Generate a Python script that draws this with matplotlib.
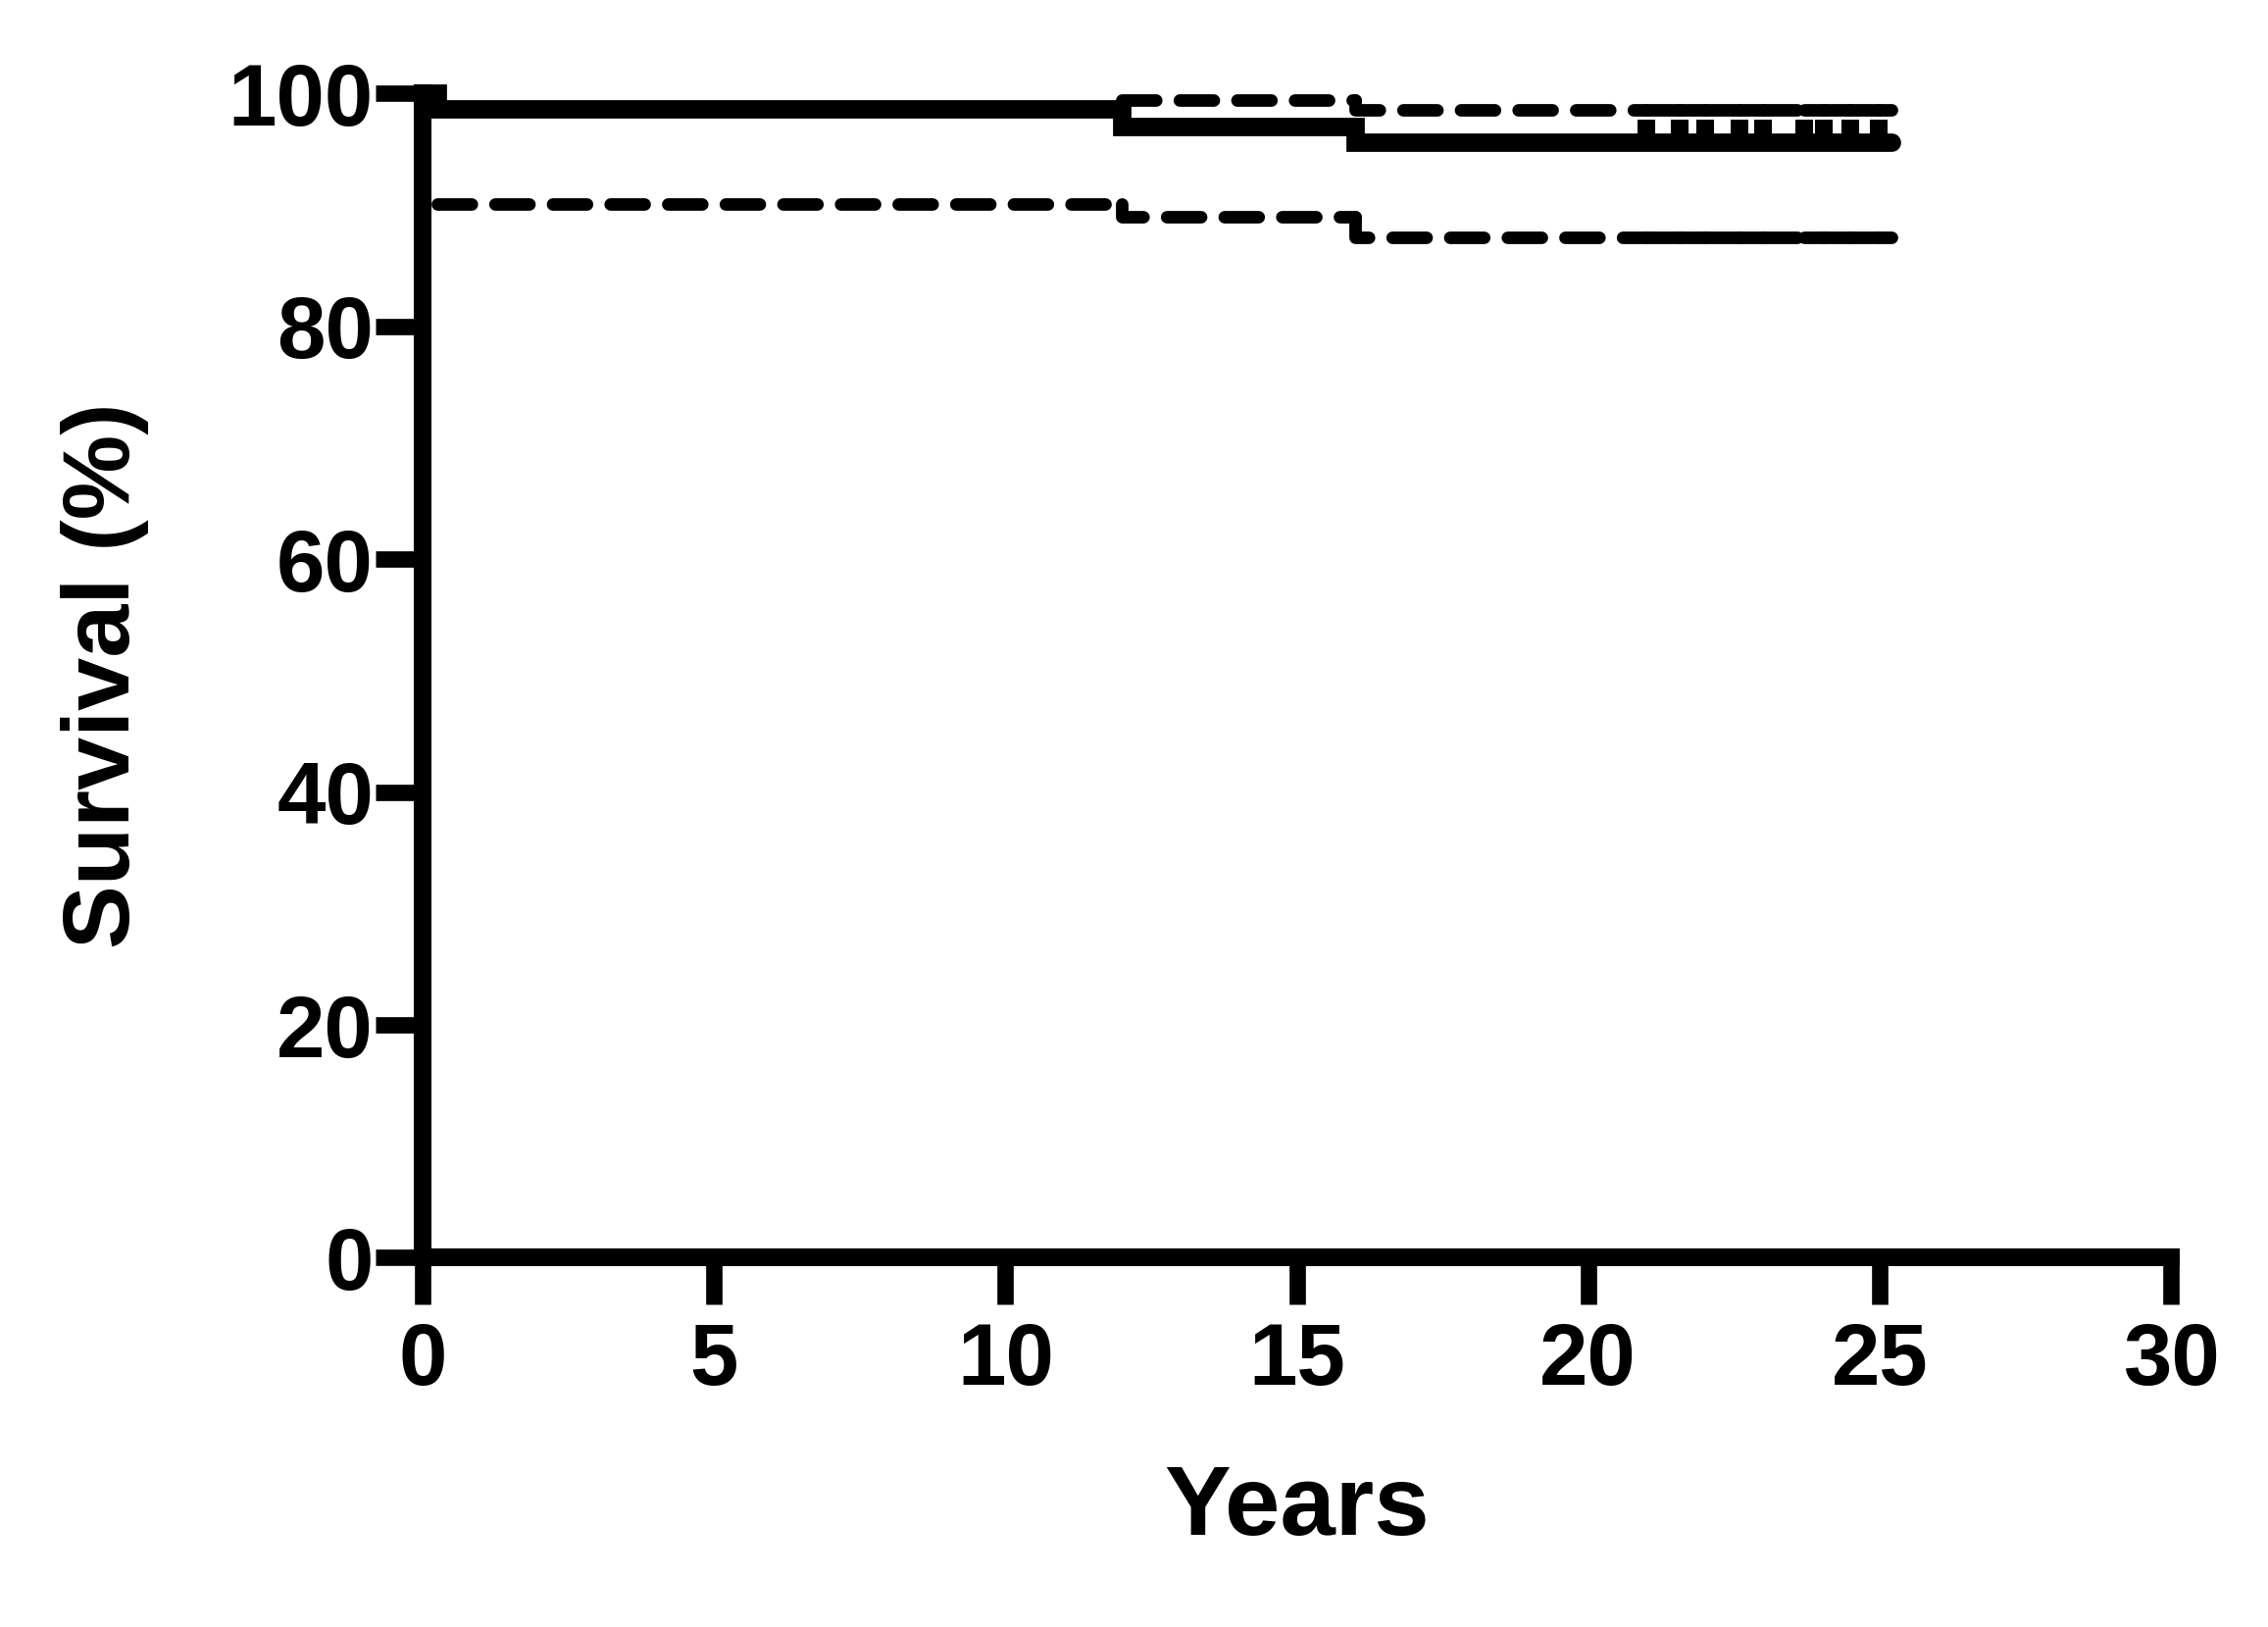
import matplotlib
matplotlib.use('Agg')
import matplotlib.pyplot as plt

plt.rcParams['font.family'] = ['Liberation Sans', 'DejaVu Sans']
plt.rcParams['font.weight'] = 'bold'
plt.rcParams['lines.scale_dashes'] = False

# ---- data ----
event_times = [0.0, 0.25, 12.0, 16.0]
survival = [100.0, 98.7, 97.2, 95.8]
end_time = 25.2
censor_times = [21.0, 21.57, 22.0, 22.6, 23.0, 23.7, 24.05, 24.5, 24.98]

upper_times = [12.0, 16.0]
upper_ci = [99.41, 98.65]
lower_times = [0.25, 12.0, 16.0]
lower_ci = [90.52, 89.39, 87.65]

x_ticks = [0, 5, 10, 15, 20, 25, 30]
y_ticks = [0, 20, 40, 60, 80, 100]


def ci_pieces(times, values, breaks, t_end):
    pts = sorted(set(times) | {b for b in breaks if b > times[0]})
    pts.append(t_end)
    pieces = []
    for k in range(len(pts) - 1):
        t, t_next = pts[k], pts[k + 1]
        idx = max(i for i, tt in enumerate(times) if tt <= t)
        v = values[idx]
        xs, ys = [], []
        if t in times and idx > 0:
            xs.append(t)
            ys.append(values[idx - 1])
        xs += [t, t_next]
        ys += [v, v]
        pieces.append((xs, ys))
    return pieces


fig = plt.figure(figsize=(23.13, 16.59), dpi=100)
ax = fig.add_axes([0.18634, 0.22695, 0.77086, 0.71549])

# survival curve
sx = event_times + [end_time]
sy = survival + [survival[-1]]
ax.plot(sx, sy, drawstyle='steps-post', color='black', lw=13.5,
        solid_capstyle='round', solid_joinstyle='miter', clip_on=False, zorder=3)

# censor marks (upward ticks)
vl = ax.vlines(censor_times, survival[-1], survival[-1] + 1.97, colors='black',
               lw=13, clip_on=False, zorder=3)
vl.set_capstyle('butt')

# confidence bands, dashed
for times, vals in [(upper_times, upper_ci), (lower_times, lower_ci)]:
    for xs, ys in ci_pieces(times, vals, censor_times, end_time):
        ax.plot(xs, ys, color='black', lw=9.2, linestyle=(0, (25, 17.3)),
                dash_capstyle='round', dash_joinstyle='round', clip_on=False, zorder=3)

ax.set_xlim(0, 30)
ax.set_ylim(0, 100)
ax.set_xticks(x_ticks)
ax.set_yticks(y_ticks)

for s in ['top', 'right']:
    ax.spines[s].set_visible(False)
for s in ['left', 'bottom']:
    ax.spines[s].set_linewidth(13)
    ax.spines[s].set_capstyle('projecting')

ax.tick_params(direction='out', length=34.5, width=12, labelsize=64, color='black')
ax.tick_params(axis='x', pad=12)
ax.tick_params(axis='y', pad=1.5)
for lab in ax.get_xticklabels() + ax.get_yticklabels():
    lab.set_fontweight('bold')

ax.set_xlabel('Years', fontsize=73, fontweight='bold', labelpad=44)
ax.set_ylabel('Survival (%)', fontsize=70, fontweight='bold', labelpad=58)

fig.savefig('out.png', dpi=100)
